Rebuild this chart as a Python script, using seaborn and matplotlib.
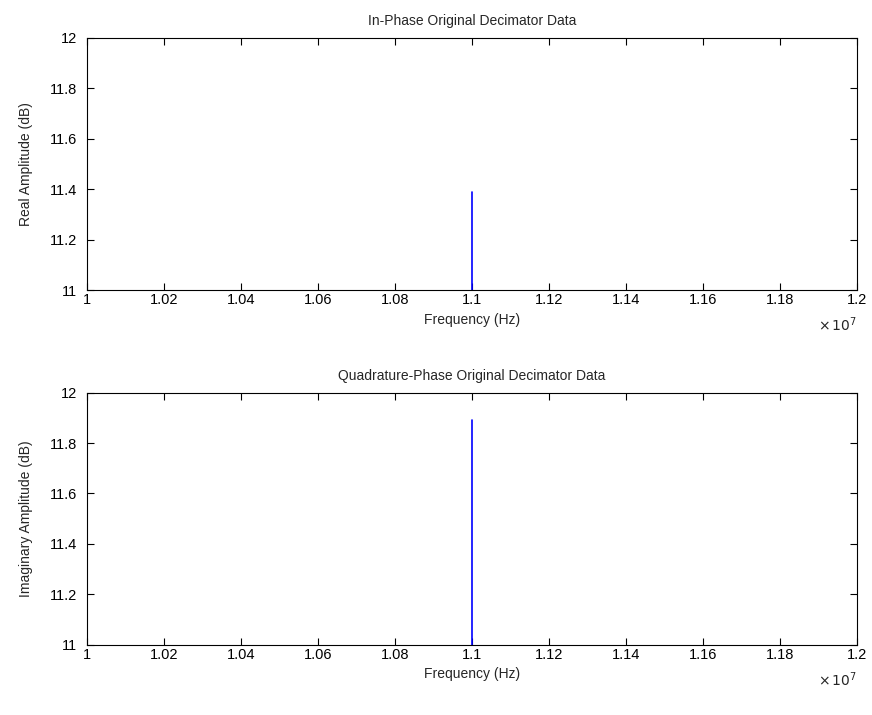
import numpy as np
import pandas as pd
import matplotlib
matplotlib.use("Agg")
import matplotlib.pyplot as plt
import seaborn as sns
from matplotlib.ticker import FuncFormatter, MultipleLocator

# spectrum data (only the peak rises above the 11 dB floor of the view)
freq_hz = [1.1e7, 1.1e7]
real_db = [0.0, 11.39]
imag_db = [0.0, 11.89]

sns.set_theme(style="white")
plt.rcParams['font.family'] = ['Liberation Sans', 'DejaVu Sans']
plt.rcParams['font.size'] = 10

fig = plt.figure(figsize=(8.72, 7.15), dpi=100)
ax1 = fig.add_axes([0.0998, 0.594, 0.883, 0.353])
ax2 = fig.add_axes([0.0998, 0.098, 0.883, 0.353])

panels = [
    (ax1, real_db, 'In-Phase Original Decimator Data', 'Real Amplitude (dB)'),
    (ax2, imag_db, 'Quadrature-Phase Original Decimator Data', 'Imaginary Amplitude (dB)'),
]

for ax, amp, title, ylab in panels:
    df = pd.DataFrame({'freq': freq_hz, 'amp': amp})
    sns.lineplot(data=df, x='freq', y='amp', ax=ax, color='#0000ff', lw=1.2,
                 sort=False, estimator=None)
    ax.set_xlim(1.0e7, 1.2e7)
    ax.set_ylim(11, 12)
    ax.xaxis.set_major_locator(MultipleLocator(0.02e7))
    ax.yaxis.set_major_locator(MultipleLocator(0.2))
    ax.xaxis.set_major_formatter(FuncFormatter(lambda v, p: '%g' % round(v / 1e7, 4)))
    ax.yaxis.set_major_formatter(FuncFormatter(lambda v, p: '%g' % round(v, 4)))
    ax.tick_params(direction='in', top=True, right=True, bottom=True, left=True,
                   length=5, width=0.8, colors='black', labelsize=10.5)
    ax.tick_params(axis='y', pad=7)
    ax.tick_params(axis='x', pad=2)
    for s in ax.spines.values():
        s.set_color('black')
        s.set_linewidth(0.8)
    ax.set_title(title, fontsize=10, pad=9)
    ax.set_xlabel('Frequency (Hz)', fontsize=10, labelpad=4)
    ax.set_ylabel(ylab, fontsize=10, labelpad=12)
    ax.text(1.0, -0.1, r'$\times\,10^{7}$', transform=ax.transAxes,
            ha='right', va='top', fontsize=10)

fig.savefig('out.png', dpi=100, facecolor='white')
